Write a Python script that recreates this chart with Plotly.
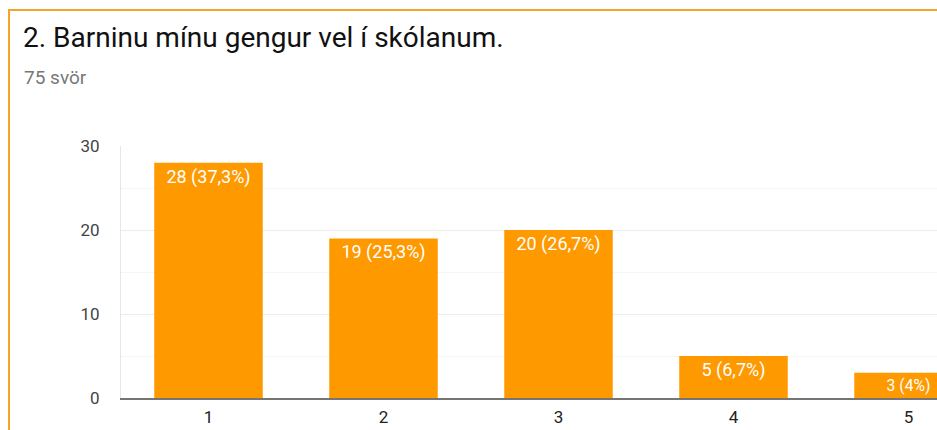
import plotly.graph_objects as go

categories = [1, 2, 3, 4, 5]
counts = [28, 19, 20, 5, 3]
bar_labels = ["28 (37,3%)", "19 (25,3%)", "20 (26,7%)", "5 (6,7%)", "3 (4%)"]
y_ticks = [0, 10, 20, 30]
title_text = "2. Barninu mínu gengur vel í skólanum."
subtitle_text = "75 svör"

W, H = 937, 430
ML, MR, MT, MB = 121, 0, 146, 32
PW, PH = W - ML - MR, H - MT - MB

def px_to_paper_x(px):
    return (px - ML) / PW

def px_to_paper_y(py):
    return (H - MB - py) / PH

fig = go.Figure(go.Bar(
    x=categories, y=counts, text=bar_labels,
    textposition="inside", insidetextanchor="end",
    textfont=dict(color="white", size=18, family="Roboto"),
    marker=dict(color="#ff9900", line=dict(width=0)),
    width=0.62, cliponaxis=True, textangle=0,
    hoverinfo="skip",
))

fig.update_layout(
    width=W, height=H,
    margin=dict(l=ML, r=MR, t=MT, b=MB),
    paper_bgcolor="white", plot_bgcolor="white",
    showlegend=False,
    uniformtext=dict(mode=False),
    font=dict(family="Roboto", color="#444"),
    xaxis=dict(
        range=[0.5, 0.5 + PW / 175.0],
        tickvals=categories, ticktext=[str(c) for c in categories],
        showgrid=False, zeroline=False,
        showline=True, linecolor="#757575", linewidth=1.5,
        ticks="", ticklabelstandoff=3, tickfont=dict(size=17, color="#222"),
        fixedrange=True,
    ),
    yaxis=dict(
        range=[0, 30], tickvals=y_ticks,
        showgrid=True, gridcolor="#ececec", gridwidth=1,
        minor=dict(dtick=5, showgrid=True, gridcolor="#f6f6f6"),
        zeroline=False, showline=True, linecolor="#e6e6e6", linewidth=1,
        ticks="", ticklabelstandoff=17,
        tickfont=dict(size=17, color="#444"),
        fixedrange=True,
    ),
    shapes=[
        dict(type="line", xref="paper", yref="paper",
             x0=px_to_paper_x(8), x1=px_to_paper_x(945),
             y0=px_to_paper_y(10), y1=px_to_paper_y(10),
             line=dict(color="#f6a32c", width=2)),
        dict(type="line", xref="paper", yref="paper",
             x0=px_to_paper_x(9), x1=px_to_paper_x(9),
             y0=px_to_paper_y(10), y1=px_to_paper_y(440),
             line=dict(color="#f6a32c", width=2)),
    ],
    annotations=[
        dict(text=title_text, xref="paper", yref="paper",
             x=px_to_paper_x(21), y=px_to_paper_y(37),
             xanchor="left", yanchor="middle", showarrow=False,
             font=dict(size=28, color="#111", family="Roboto")),
        dict(text=subtitle_text, xref="paper", yref="paper",
             x=px_to_paper_x(22), y=px_to_paper_y(77),
             xanchor="left", yanchor="middle", showarrow=False,
             font=dict(size=19, color="#777", family="Roboto")),
    ],
)

fig.write_html(
    "out.html",
    config={"displayModeBar": False},
    post_script="document.body.style.margin='0';document.body.style.overflow='hidden';",
)
